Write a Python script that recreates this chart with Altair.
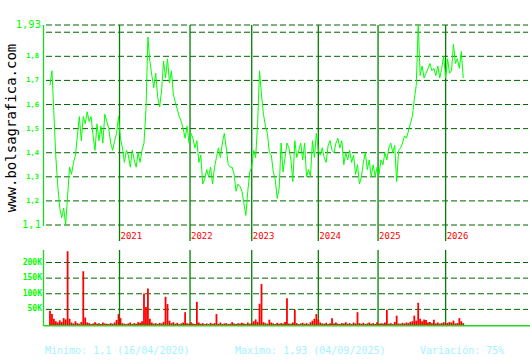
import altair as alt
import pandas as pd

# ---- data ----
price = [
    1.68, 1.74, 1.56, 1.38, 1.26, 1.17, 1.13, 1.17, 1.10, 1.22,
    1.34, 1.31, 1.36, 1.39, 1.47, 1.55, 1.45, 1.55, 1.52, 1.57,
    1.53, 1.55, 1.47, 1.41, 1.52, 1.45, 1.51, 1.44, 1.56, 1.53,
    1.50, 1.44, 1.41, 1.45, 1.48, 1.55,
    1.46, 1.42, 1.36, 1.41, 1.39, 1.34, 1.41, 1.37, 1.34, 1.40,
    1.36, 1.41, 1.44, 1.58, 1.88, 1.78, 1.72, 1.67, 1.73, 1.63,
    1.59, 1.66, 1.78, 1.71, 1.79, 1.69, 1.74, 1.64, 1.61, 1.58,
    1.55, 1.53, 1.50, 1.46, 1.51, 1.44, 1.48,
    1.46, 1.42, 1.45, 1.36, 1.39, 1.27, 1.29, 1.33, 1.30, 1.34,
    1.27, 1.34, 1.38, 1.42, 1.38, 1.44, 1.48, 1.42, 1.35, 1.34,
    1.34, 1.31, 1.24, 1.27, 1.26, 1.24, 1.19, 1.14, 1.24, 1.32,
    1.34, 1.41, 1.38, 1.52, 1.74, 1.64,
    1.56, 1.51, 1.48, 1.40, 1.39, 1.32, 1.29, 1.21, 1.25, 1.44,
    1.32, 1.38, 1.44, 1.42, 1.37, 1.28, 1.45, 1.38, 1.41, 1.44,
    1.37, 1.44, 1.30, 1.33, 1.30, 1.45, 1.38, 1.48, 1.41, 1.39,
    1.42, 1.38, 1.36, 1.43, 1.45, 1.41,
    1.40, 1.44, 1.46, 1.42, 1.45, 1.35, 1.40, 1.37, 1.41, 1.36,
    1.39, 1.31, 1.35, 1.27, 1.30, 1.36, 1.40, 1.33, 1.37, 1.30,
    1.35, 1.30, 1.34, 1.31, 1.37, 1.35, 1.40, 1.37, 1.42, 1.44,
    1.40, 1.43, 1.28, 1.41, 1.42, 1.44,
    1.47, 1.46, 1.49, 1.52, 1.55, 1.62, 1.68, 1.93, 1.72, 1.76,
    1.71, 1.73, 1.75, 1.77, 1.74, 1.75, 1.72, 1.76, 1.71, 1.75,
    1.80, 1.71, 1.79, 1.73, 1.74, 1.85, 1.77, 1.79, 1.75, 1.82,
    1.71,
]

volume_k = [
    46, 35, 20, 12, 8, 15, 10, 22, 18, 236,
    20, 8, 5, 12, 6, 4, 10, 172, 24, 8,
    6, 3, 5, 9, 4, 6, 3, 8, 5, 4,
    3, 6, 4, 8, 16, 35, 22, 6, 4, 3,
    5, 8, 3, 6, 4, 9, 7, 12, 101, 58,
    117, 20, 8, 4, 6, 3, 7, 5, 10, 90,
    67, 14, 6, 9, 4, 7, 3, 5, 8, 41,
    6, 4, 9, 5, 3, 74, 8, 4, 6, 3,
    5, 3, 7, 4, 6, 35, 4, 8, 3, 5,
    6, 3, 4, 9, 5, 3, 6, 4, 7, 5,
    3, 8, 4, 6, 12, 18, 10, 68, 131, 9,
    6, 4, 17, 8, 5, 3, 7, 4, 6, 5,
    10, 86, 5, 4, 8, 49, 6, 3, 5, 7,
    4, 6, 3, 9, 14, 20, 35, 18, 8, 5,
    4, 7, 3, 6, 22, 5, 8, 4, 3, 6,
    5, 9, 4, 6, 3, 8, 5, 41, 6, 4,
    7, 3, 5, 8, 4, 6, 3, 9, 4, 6,
    5, 8, 49, 4, 6, 3, 10, 30, 5, 4,
    7, 5, 8, 6, 10, 12, 30, 14, 71, 20,
    12, 18, 16, 8, 10, 6, 17, 5, 8, 4,
    6, 9, 5, 7, 10, 8, 14, 5, 6, 22,
    12, 6,
]

year_labels = ["2021", "2022", "2023", "2024", "2025", "2026"]
year_index = [35.5, 71.5, 103, 137, 167.5, 202]

price_grid = [1.1, 1.2, 1.3, 1.4, 1.5, 1.6, 1.7, 1.8, 1.9, 1.93]
price_small_ticks = [1.2, 1.3, 1.4, 1.5, 1.6, 1.7, 1.8]
price_small_labels = ["1,2", "1,3", "1,4", "1,5", "1,6", "1,7", "1,8"]
price_big_ticks = [1.93, 1.1]
price_big_labels = ["1,93", "1,1"]

vol_ticks = [50000, 100000, 150000, 200000]
vol_labels = ["50K", "100K", "150K", "200K"]

stats_min = "Minimo: 1,1 (16/04/2020)"
stats_max = "Maximo: 1,93 (04/09/2025)"
stats_var = "Variación: 75%"
watermark = "www.bolsagrafica.com"

# ---- styling ----
GREEN = "#00ff00"
AXIS_GREEN = "#1ed81e"
GRID = "#006400"
YEARLINE = "#008000"
RED = "#ff0000"
CYAN = "#a4f2ff"
MONO = "DejaVu Sans Mono"

W, H = 484, 301

xs = alt.Scale(domain=[-0.5, 241.5], nice=False, zero=False)
ys_p = alt.Scale(domain=[1.1, 1.93], range=[200, 0], nice=False, zero=False)
ys_v = alt.Scale(domain=[0, 240000], range=[300, 225], nice=False)

df_price = pd.DataFrame({"i": list(range(len(price))), "p": price})
df_vol = pd.DataFrame({"i": list(range(len(volume_k))), "v": [k * 1000 for k in volume_k]})
df_years = pd.DataFrame({"i": year_index, "label": year_labels})
df_pgrid = pd.DataFrame({"p": price_grid})
df_psmall = pd.DataFrame({"p": price_small_ticks, "t": price_small_labels})
df_pbig = pd.DataFrame({"p": price_big_ticks, "t": price_big_labels})
df_vgrid = pd.DataFrame({"v": vol_ticks, "t": vol_labels})
one = pd.DataFrame({"a": [0]})

# ---- price panel ----
p_grid = alt.Chart(df_pgrid).mark_rule(color=GRID, strokeDash=[6, 3], strokeWidth=1).encode(
    y=alt.Y("p:Q", scale=ys_p, axis=None),
    x=alt.value(2), x2=alt.value(W),
)
p_years = alt.Chart(df_years).mark_rule(color=YEARLINE, strokeWidth=1.3).encode(
    x=alt.X("i:Q", scale=xs, axis=None),
    y=alt.value(0), y2=alt.value(216),
)
p_year_txt = alt.Chart(df_years).mark_text(
    color=RED, font=MONO, fontSize=9, align="left", baseline="middle", dx=1
).encode(
    x=alt.X("i:Q", scale=xs, axis=None),
    y=alt.value(211),
    text="label:N",
)
p_line = alt.Chart(df_price).mark_line(color=GREEN, strokeWidth=1).encode(
    x=alt.X("i:Q", scale=xs, axis=None),
    y=alt.Y("p:Q", scale=ys_p, axis=None),
)
p_axis = alt.Chart(one).mark_rule(color=AXIS_GREEN, strokeWidth=1.3).encode(
    x=alt.value(-0.5), y=alt.value(0), y2=alt.value(201),
)
p_small = alt.Chart(df_psmall).mark_text(
    color=GREEN, font=MONO, fontSize=7, fontWeight="bold", align="right", baseline="middle", dx=-5
).encode(
    x=alt.value(0),
    y=alt.Y("p:Q", scale=ys_p, axis=None),
    text="t:N",
)
p_big = alt.Chart(df_pbig).mark_text(
    color=GREEN, font=MONO, fontSize=10.5, align="right", baseline="middle", dx=-3
).encode(
    x=alt.value(0),
    y=alt.Y("p:Q", scale=ys_p, axis=None),
    text="t:N",
)
price_layer = alt.layer(p_grid, p_years, p_year_txt, p_line, p_axis, p_small, p_big)

# ---- volume panel ----
v_grid = alt.Chart(df_vgrid).mark_rule(color=GRID, strokeDash=[6, 3], strokeWidth=1).encode(
    y=alt.Y("v:Q", scale=ys_v, axis=None),
    x=alt.value(2), x2=alt.value(W),
)
v_years = alt.Chart(df_years).mark_rule(color=YEARLINE, strokeWidth=1.3).encode(
    x=alt.X("i:Q", scale=xs, axis=None),
    y=alt.value(225), y2=alt.value(301),
)
v_bars = alt.Chart(df_vol).mark_bar(color=RED, size=1.8).encode(
    x=alt.X("i:Q", scale=xs, axis=None),
    y=alt.Y("v:Q", scale=ys_v, axis=None),
)
v_axis = alt.Chart(one).mark_rule(color=AXIS_GREEN, strokeWidth=1.3).encode(
    x=alt.value(-0.5), y=alt.value(225), y2=alt.value(301),
)
v_base = alt.Chart(one).mark_rule(color=AXIS_GREEN, strokeWidth=1.5).encode(
    x=alt.value(0), x2=alt.value(486), y=alt.value(300.8),
)
v_lab = alt.Chart(df_vgrid).mark_text(
    color=GREEN, font=MONO, fontSize=8, fontWeight="bold", align="right", baseline="middle", dx=-2
).encode(
    x=alt.value(0),
    y=alt.Y("v:Q", scale=ys_v, axis=None),
    text="t:N",
)
vol_layer = alt.layer(v_grid, v_years, v_bars, v_axis, v_base, v_lab)

# ---- free texts ----
def free_text(txt, x, y, **kw):
    return alt.Chart(pd.DataFrame({"t": [txt]})).mark_text(**kw).encode(
        x=alt.value(x), y=alt.value(y), text="t:N"
    )

t_min = free_text(stats_min, 1, 326, color=CYAN, font=MONO, fontSize=10, align="left", baseline="middle")
t_max = free_text(stats_max, 191, 326, color=CYAN, font=MONO, fontSize=10, align="left", baseline="middle")
t_var = free_text(stats_var, 376, 326, color=CYAN, font=MONO, fontSize=10, align="left", baseline="middle")
t_wm = free_text(watermark, -32, 103, color="#000000", font=MONO, fontSize=14,
                 align="center", baseline="middle", angle=270)

chart = alt.layer(
    price_layer, vol_layer, t_min, t_max, t_var, t_wm
).resolve_scale(y="independent").properties(
    width=W, height=H,
    autosize=alt.AutoSizeParams(type="none"),
    padding={"left": 44, "top": 25, "right": 2, "bottom": 34},
    background="#ffffff",
).configure_view(strokeWidth=0)

chart.save("out.html", embed_options={"renderer": "svg", "actions": False})
